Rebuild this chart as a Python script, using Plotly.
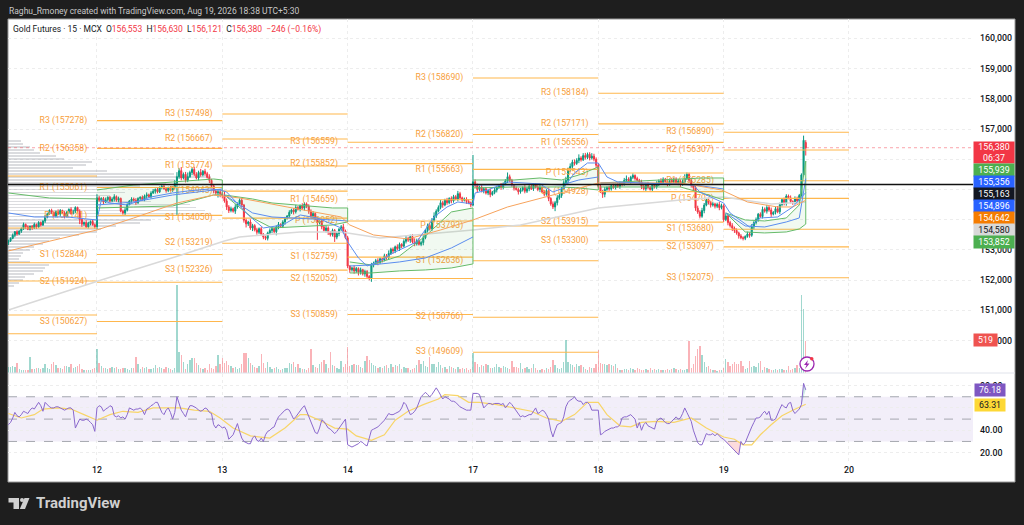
"""Gold Futures 15m TradingView chart snapshot rebuilt with Plotly"""
import plotly.graph_objects as go

# bar index of each session start on the time axis
DAY_TICKS = [41, 99, 157, 215, 273, 331, 389]
DAY_LABELS = ["12", "13", "14", "17", "18", "19", "20"]
X_RANGE = [-0.18, 446.4]

CLOSE = [
    153300, 153380, 153480, 153600, 153520, 153620, 153700, 153840, 153760, 153680,
    153780, 153720, 153840, 153760, 153900, 153820, 153950, 154080, 154180, 154300,
    154240, 154120, 154260, 154180, 154300, 154220, 154100, 154240, 154340, 154200,
    154280, 154400, 154280, 154000, 153850, 153900, 153760, 153880, 153940, 153830, 153760,
    # 12th
    154720, 154640, 154700, 154580, 154660, 154740, 154620, 154680, 154760, 154640, 154700,
    154280, 154220, 154320, 154500, 154620, 154680, 154640, 154560, 154700, 154740, 154660, 154780,
    154820, 154760, 154880, 154940, 155000, 154920, 155060, 155100, 155020, 154960, 155040, 154980, 155060,
    155200, 155420, 155620, 155380, 155500, 155300, 155420, 155560, 155660, 155500, 155380,
    155560, 155480, 155600, 155520, 155400, 155300, 155120, 154950, 154880, 154920, 154860,
    # 13th
    154800, 154620, 154420, 154300, 154360, 154280, 154420, 154520, 154640, 154480,
    153980, 153860, 153920, 153720, 153800, 153660, 153580, 153700, 153520, 153420,
    153380, 153560, 153640, 153700, 153600, 153760, 153840, 153780, 153920, 154040,
    154120, 154240, 154320, 154260, 154400, 154340, 154460, 154380, 154520, 154440,
    154280, 154120, 154200, 154020, 153900, 153960, 153760, 153640, 153720, 153580,
    153500, 153640, 153420, 153540, 153680, 153760, 153620, 153400,
    # 14th
    152460, 152340, 152400, 152300, 152380, 152260, 152340, 152200, 152280, 152120,
    152060, 152500, 152560, 152640, 152580, 152700, 152660, 152800, 152740, 152880,
    153020, 152960, 153100, 153040, 153180, 153120, 153280, 153380, 153320, 153440,
    153260, 153200, 153300, 153180, 153240, 153400, 153640, 153800, 153700, 153960,
    154120, 154280, 154400, 154560, 154480, 154640, 154560, 154700, 154620, 154760,
    154680, 154860, 154720, 154640, 154680, 154600, 154560, 154480,
    # 17th
    155250, 155130, 155000, 155080, 154950, 155020, 154880, 154960, 154830, 154900,
    154980, 155060, 155120, 155060, 155180, 155280, 155420, 155300, 155140, 155040,
    155000, 154920, 154980, 155060, 154940, 155020, 155100, 155020, 155160, 155080,
    155000, 155060, 154920, 154840, 154960, 154700, 154520, 154420, 154560, 154720,
    154800, 155020, 155220, 155300, 155660, 155760, 155900, 155860, 155960, 156040,
    155980, 156120, 156060, 156160, 156040, 156100, 156000, 155800,
    # 18th
    155100, 154920, 154840, 155000, 155060, 155020, 155120, 155060, 155140, 155100,
    155200, 155160, 155300, 155340, 155260, 155400, 155460, 155360, 155300, 155240,
    155100, 155020, 155180, 155060, 155000, 155140, 155080, 155200, 155280, 155220,
    155340, 155260, 155180, 155300, 155240, 155340, 155200, 155280, 155160, 155240,
    155360, 155500, 155300, 155140, 155060, 154380, 154250, 154110, 154300, 154480,
    154660, 154560, 154480, 154520, 154440, 154500, 154400, 154460,
    # 19th
    154000, 154120, 153900, 153800, 153720, 153640, 153560, 153460, 153400, 153380,
    153440, 153520, 153480, 153760, 153900, 154000, 154180, 154100, 154340, 154280,
    154400, 154320, 154180, 154240, 154360, 154260, 154500, 154660, 154540, 154780,
    154720, 154600, 154560, 154700, 154620, 154800, 155480, 156626, 156380,
]

UPPER_WICK = [
    40, 30, 60, 20, 50, 30, 40, 60, 30, 50,
    20, 40, 60, 30, 50, 40, 30, 70, 50, 40,
    60, 30, 40, 80, 50, 30, 60, 40, 30, 70,
    50, 40, 30, 60, 20, 40, 80, 50, 30, 60,
    40, 120, 60, 40, 50, 70, 30, 40, 60, 80,
    40, 60, 30, 50, 80, 40, 30, 60, 50, 70,
    40, 30, 60, 50, 80, 40, 60, 70, 30, 50,
    40, 80, 60, 30, 50, 70, 40, 120, 150, 90,
    120, 60, 80, 140, 60, 50, 90, 70, 60, 120,
    40, 80, 60, 100, 50, 60, 40, 70, 90, 60,
    150, 80, 60, 70, 40, 90, 50, 60, 80, 40,
    60, 40, 90, 60, 50, 70, 40, 60, 30, 50,
    40, 70, 60, 30, 50, 80, 40, 60, 50, 30,
    70, 40, 60, 90, 50, 40, 80, 60, 50, 70,
    60, 80, 40, 60, 30, 70, 50, 80, 60, 40,
    60, 50, 70, 40, 60, 100, 50, 60, 30, 40,
    80, 50, 40, 70, 30, 60, 50, 40, 70, 50,
    60, 80, 50, 40, 70, 60, 100, 50, 60, 40,
    80, 60, 40, 70, 90, 50, 60, 80, 120, 70,
    90, 60, 80, 50, 70, 60, 90, 120, 60, 70,
    90, 60, 50, 80, 40, 70, 60, 50, 90, 60,
    40, 50, 60, 70, 40, 890, 80, 60, 40, 70,
    50, 60, 40, 80, 50, 70, 60, 40, 90, 50,
    60, 140, 70, 50, 40, 60, 50, 70, 40, 80,
    60, 40, 70, 50, 40, 60, 90, 40, 60, 50,
    70, 40, 80, 60, 90, 100, 60, 80, 120, 60,
    100, 80, 90, 70, 120, 60, 80, 90, 60, 70,
    100, 80, 60, 70, 50, 60, 80, 40, 60, 50,
    70, 50, 90, 60, 40, 80, 120, 60, 50, 70,
    40, 60, 50, 80, 60, 40, 70, 50, 60, 40,
    70, 50, 90, 60, 40, 70, 60, 80, 50, 60,
    60, 50, 90, 140, 60, 50, 90, 40, 120, 80,
    60, 90, 70, 40, 60, 50, 70, 40, 60, 90,
    70, 50, 90, 40, 60, 80, 50, 70, 40, 60,
    50, 40, 80, 60, 90, 50, 70, 40, 60, 90,
    60, 90, 50, 80, 40, 70, 90, 60, 50, 70,
    60, 50, 80, 40, 70, 60, 50, 50, 154, 77,
]

LOWER_WICK = [
    80, 40, 30, 60, 50, 30, 60, 40, 70, 30,
    40, 60, 30, 70, 40, 50, 30, 60, 40, 30,
    60, 40, 50, 30, 70, 40, 60, 30, 50, 40,
    30, 60, 40, 150, 90, 60, 40, 50, 70, 30,
    60, 80, 50, 40, 70, 30, 60, 50, 40, 80,
    50, 70, 40, 60, 90, 50, 30, 60, 40, 70,
    40, 60, 30, 50, 70, 40, 60, 30, 80, 50,
    40, 60, 30, 70, 50, 40, 60, 60, 1050, 70,
    80, 50, 70, 60, 40, 90, 60, 50, 80, 60,
    50, 70, 40, 90, 60, 80, 70, 150, 120, 100,
    60, 100, 80, 60, 50, 90, 60, 40, 70, 80,
    120, 70, 60, 100, 50, 80, 60, 50, 70, 60,
    70, 40, 90, 60, 120, 80, 50, 60, 90, 40,
    60, 50, 90, 60, 40, 70, 50, 80, 60, 90,
    60, 90, 50, 570, 60, 80, 40, 70, 90, 60,
    60, 160, 70, 90, 60, 80, 50, 70, 100, 60,
    90, 60, 110, 80, 50, 90, 60, 70, 120, 80,
    60, 90, 50, 80, 40, 70, 60, 50, 90, 70,
    50, 80, 60, 40, 70, 60, 90, 50, 80, 60,
    40, 60, 90, 50, 70, 60, 80, 50, 70, 40,
    60, 90, 40, 70, 50, 80, 60, 40, 70, 50,
    60, 40, 80, 50, 70, 40, 70, 90, 60, 50,
    80, 50, 70, 90, 40, 60, 80, 50, 70, 60,
    40, 70, 60, 50, 80, 40, 90, 60, 50, 70,
    60, 80, 40, 70, 50, 60, 90, 40, 70, 50,
    90, 60, 70, 140, 90, 60, 80, 50, 70, 100,
    90, 60, 70, 50, 90, 60, 40, 70, 60, 80,
    50, 70, 90, 60, 40, 120, 100, 50, 70, 60,
    40, 60, 50, 80, 60, 40, 70, 50, 90, 60,
    70, 40, 60, 90, 50, 70, 60, 40, 80, 50,
    60, 90, 50, 70, 40, 80, 60, 50, 70, 40,
    60, 90, 40, 70, 50, 60, 80, 120, 90, 60,
    70, 50, 90, 40, 60, 80, 50, 70, 60, 90,
    60, 80, 50, 90, 60, 100, 80, 60, 90, 50,
    70, 60, 40, 80, 50, 90, 60, 70, 40, 60,
    50, 80, 60, 90, 40, 70, 50, 80, 60, 70,
    80, 50, 60, 70, 40, 90, 60, 40, 60, 259,
]

VOLUME = [
    96, 96, 112, 96, 160, 64, 48, 48, 48, 48,
    256, 64, 64, 80, 80, 64, 80, 144, 80, 64,
    144, 176, 128, 80, 80, 64, 112, 112, 96, 144,
    80, 96, 112, 144, 64, 48, 48, 48, 48, 64, 80,
    # 12th
    384, 160, 112, 80, 80, 64, 80, 96, 80, 96,
    64, 64, 80, 80, 64, 48, 80, 80, 256, 144,
    64, 96, 80, 96, 64, 64, 80, 128, 80, 96,
    80, 64, 96, 80, 64, 48, 80, 1408, 336, 288,
    176, 64, 144, 208, 240, 240, 160, 128, 80, 64,
    80, 48, 144, 80, 64, 112, 288, 144,
    # 13th
    240, 160, 192, 128, 112, 80, 96, 64, 80, 144,
    320, 320, 240, 160, 128, 96, 80, 112, 304, 160,
    80, 176, 96, 64, 80, 96, 64, 48, 64, 80,
    80, 160, 144, 176, 96, 144, 80, 64, 64, 48,
    80, 384, 128, 96, 80, 144, 176, 208, 144, 80,
    336, 128, 112, 80, 64, 192, 96, 144,
    # 14th
    416, 112, 128, 144, 128, 128, 96, 80, 192, 272,
    208, 160, 128, 112, 80, 96, 80, 112, 128, 80,
    144, 96, 128, 112, 144, 64, 96, 80, 80, 48,
    64, 80, 128, 208, 144, 192, 112, 96, 256, 144,
    144, 96, 176, 128, 80, 96, 64, 112, 96, 80,
    64, 96, 64, 80, 64, 80, 48, 64,
    # 17th
    320, 176, 144, 96, 128, 112, 144, 128, 80, 80,
    96, 144, 96, 80, 112, 96, 80, 64, 192, 96,
    96, 80, 160, 64, 80, 96, 64, 80, 144, 80,
    48, 48, 64, 48, 80, 64, 96, 208, 128, 80,
    64, 80, 176, 528, 176, 144, 128, 96, 144, 112,
    128, 96, 64, 48, 96, 80, 80, 144,
    # 18th
    368, 160, 144, 144, 128, 144, 128, 112, 144, 80,
    48, 48, 64, 64, 48, 80, 64, 48, 80, 64,
    48, 48, 64, 48, 80, 48, 64, 48, 64, 48,
    48, 48, 64, 48, 64, 80, 64, 48, 64, 48,
    48, 64, 512, 80, 144, 272, 384, 432, 288, 176,
    96, 112, 64, 48, 48, 32, 48, 48,
    # 19th
    80, 224, 176, 112, 144, 176, 144, 144, 192, 112,
    64, 80, 192, 96, 112, 96, 160, 192, 48, 96,
    80, 64, 48, 48, 64, 48, 64, 64, 48, 48,
    112, 48, 64, 80, 128, 80, 1248, 1024, 519,
]

RSI = [
    45, 47, 51, 56, 53, 52, 54, 57, 56, 55,
    58, 60, 59, 62, 65, 62, 57, 65, 63, 61,
    60, 60, 61, 61, 60, 59, 58, 59, 60, 60,
    58, 42, 46, 50, 49, 49, 50, 49, 47, 45, 39,
    # 12th
    60, 62, 61, 57, 59, 60, 62, 61, 53, 52,
    53, 51, 52, 50, 54, 60, 59, 58, 59, 59,
    60, 58, 54, 59, 60, 62, 63, 65, 65, 60,
    56, 54, 58, 60, 56, 50, 56, 70, 64, 58,
    55, 52, 58, 62, 62, 61, 60, 58, 57, 58,
    60, 59, 56, 55, 45, 42, 45, 44,
    # 13th
    42, 43, 40, 32, 34, 36, 41, 46, 39, 33,
    30, 29, 28, 28, 33, 35, 31, 30, 33, 30,
    36, 39, 40, 42, 43, 48, 52, 54, 56, 58,
    59, 58, 54, 50, 52, 55, 57, 60, 62, 57,
    52, 47, 42, 38, 37, 42, 49, 48, 45, 42,
    41, 39, 37, 39, 42, 44, 48, 50,
    # 14th
    27, 26, 25, 26, 27, 28, 30, 29, 27, 26,
    33, 40, 41, 42, 43, 45, 47, 49, 52, 55,
    54, 54, 55, 56, 57, 60, 65, 63, 58, 54,
    55, 57, 60, 65, 70, 72, 74, 72, 70, 72,
    75, 78, 75, 72, 68, 70, 69, 68, 66, 66,
    65, 63, 61, 60, 59, 58, 58, 58,
    # 17th
    73, 73, 73, 72, 65, 60, 62, 64, 64, 63,
    64, 64, 64, 63, 64, 60, 63, 65, 63, 60,
    57, 54, 52, 53, 52, 53, 54, 54, 57, 60,
    55, 56, 58, 57, 54, 50, 40, 34, 40, 45,
    46, 47, 52, 61, 65, 67, 68, 70, 67, 66,
    66, 63, 65, 65, 63, 58, 58, 58,
    # 18th
    58, 36, 37, 39, 40, 41, 42, 42, 43, 43,
    45, 51, 52, 52, 53, 54, 52, 50, 42, 47,
    40, 45, 47, 44, 43, 42, 41, 48, 50, 51,
    49, 47, 46, 46, 48, 50, 52, 50, 51, 55,
    60, 56, 52, 48, 40, 34, 29, 27, 27, 32,
    37, 36, 36, 37, 35, 37, 35, 33,
    # 19th
    32, 30, 28, 26, 24, 22, 20, 18, 30, 27,
    29, 34, 38, 43, 47, 51, 51, 52, 55, 57,
    54, 57, 49, 49, 50, 55, 59, 63, 61, 60,
    64, 65, 58, 55, 57, 59, 63, 82, 76.18,
]

RSI_MA_X = [0, 6, 12, 16, 23, 29, 35, 41, 47, 53, 60, 67, 73, 79, 86, 93, 98, 104, 112, 121,
            128, 135, 138, 144, 151, 157, 161, 168, 174, 179, 185, 192, 199, 202, 208, 213,
            218, 226, 234, 242, 249, 256, 262, 268, 273, 277, 283, 288, 293, 300, 308, 316,
            323, 331, 336, 340, 344, 348, 353, 358, 363, 369]
RSI_MA = [55, 51, 54, 59, 60, 59, 54, 49, 54, 57, 56, 60, 60, 60, 58, 57, 51, 42, 35, 33,
          42, 54, 54, 49, 42, 41, 35, 31, 36, 49, 57, 63, 68, 72, 71, 65,
          65, 63, 60, 57, 51, 48, 54, 65, 65, 54, 44, 43, 47, 48, 47, 51,
          42, 34, 32, 27, 27, 36, 45, 53, 58, 63.31]

# pivot levels per session, R3 down to S3
PIVOT_NAMES = ["R3", "R2", "R1", "P", "S1", "S2", "S3"]
PIVOT_12 = [157278, 156358, 155061, 154141, 152844, 151924, 150627]
PIVOT_13 = [157498, 156667, 155774, 154943, 154050, 153219, 152326]
PIVOT_14 = [156559, 155852, 154659, 153952, 152759, 152052, 150859]
PIVOT_17 = [158690, 156820, 155663, 153793, 152636, 150766, 149609]
PIVOT_18 = [158184, 157171, 156556, 155543, 154928, 153915, 153300]
PIVOT_19 = [156890, 156307, 155285, 154702, 153680, 153097, 152075]
PIVOT_LEFT = [155444, 153722, 152573, 151967, 150841, 150222]

# volume profile rows down the left edge
VP_PRICE = list(range(156600, 151700, -100))
VP_WIDTH = [6, 7, 10, 12, 15, 22, 26, 39, 36, 30, 46, 77, 94, 77, 73, 61, 43, 54, 47, 43,
            66, 84, 87, 91, 94, 73, 66, 61, 50, 43, 41, 33, 24, 19, 16, 12, 10, 7, 6, 5,
            10, 19, 17, 16, 12, 8, 7, 5, 3]

EMA_SLOW_X = [0, 41, 58, 78, 95, 107, 129, 150, 154, 158, 169, 185, 200, 215, 231, 252, 273,
              293, 311, 330, 342, 356, 363, 369]
EMA_SLOW = [152962, 153657, 154054, 154550, 154815, 154716, 154418, 154153, 154087, 153822,
            153491, 153359, 153657, 153988, 154418, 154815, 155213, 155213, 155213, 154981,
            154584, 154418, 154418, 154642]

SMA_X = [0, 43, 80, 100, 107, 135, 154, 172, 215, 237, 273, 311, 331, 353, 369]
SMA = [151009, 152002, 152829, 153293, 153425, 153591, 153591, 153392, 153657, 153822, 154385,
       154650, 154749, 154518, 154580]

EMA_FAST_X = [0, 12, 27, 41, 43, 47, 55, 66, 76, 83, 93, 98, 101, 111, 118, 127, 135, 143, 154,
              157, 162, 166, 172, 178, 189, 197, 203, 208, 215, 216, 222, 231, 246, 252, 257,
              262, 268, 273, 277, 282, 293, 311, 317, 320, 331, 334, 343, 348, 356, 363, 369]
EMA_FAST = [154220, 154087, 154087, 153988, 154650, 154551, 154484, 154749, 154882, 154948,
            155014, 154981, 154915, 154153, 153723, 153822, 154153, 154054, 153723,
            153260, 152730, 152465, 152631, 152896, 153260, 154087, 154418, 154584, 154518,
            154882, 154981, 155246, 155180, 154915, 155047, 155544, 155875, 155875, 155411,
            155246, 155213, 155146, 155146, 154915, 154551, 154220, 153756, 154054, 154087,
            154418, 154896]

# anchored VWAP and its bands for each session
LEFT_BAND_X = [0, 19, 41]
LEFT_UPPER = [154882, 154716, 154683]
BAND_X_12 = [41, 58, 76, 95, 99]
UPPER_12 = [154981, 155146, 155246, 155345, 155312]
LOWER_12 = [154385, 154418, 154451, 154815, 154815]
VWAP_12 = [154484, 154584, 154815, 154981, 155014]
BAND_X_13 = [100, 113, 122, 134, 150, 157]
UPPER_13 = [154815, 154683, 154551, 154484, 154385, 154385]
LOWER_13 = [154815, 154054, 153723, 153756, 153822, 153922]
VWAP_13 = [154815, 154220, 154087, 154054, 153988, 153955]
BAND_X_14 = [158, 168, 181, 193, 205, 215]
UPPER_14 = [152598, 152498, 152796, 153458, 154253, 154385]
LOWER_14 = [152234, 152234, 152300, 152333, 152399, 152532]
VWAP_14 = [152465, 152498, 152598, 152730, 153061, 153425]
BAND_X_17 = [215, 234, 246, 256, 264, 273]
UPPER_17 = [155312, 155312, 155378, 155312, 155477, 155742]
LOWER_17 = [155047, 155080, 155080, 155080, 155047, 154981]
VWAP_17 = [155146, 155146, 155180, 155146, 155312, 155411]
BAND_X_18 = [274, 290, 311, 321, 331]
UPPER_18 = [155213, 155279, 155345, 155378, 155378]
LOWER_18 = [155080, 155080, 155080, 154882, 154650]
VWAP_18 = [155213, 155213, 155180, 155113, 155014]
BAND_X_19 = [332, 341, 350, 360, 366, 369]
UPPER_19 = [154220, 153988, 153955, 154054, 154484, 155939]
LOWER_19 = [154220, 153591, 153558, 153591, 153690, 153852]
VWAP_19 = [154220, 153789, 153756, 153922, 154054, 155356]

LAST_PRICE = 156380
BLACK_LEVEL = 155163

PRICE_TICKS = [160000, 159000, 158000, 157000, 156000, 155000, 154000, 153000, 152000, 151000, 150000]
# 156,000 to 154,000 lie fully behind the value tags
PRICE_LABELS = ["160,000", "159,000", "158,000", "157,000", "", "", "", "153,000", "152,000", "151,000", "150,000"]
RSI_TICKS = [20, 40, 60, 80]

TAG_LABELS = ["155,939", "155,356", "155,163", "154,896", "154,642", "154,580", "153,852"]
TAG_COLORS = ["#4caf50", "#2962ff", "#131722", "#2962ff", "#f57c00", "#d9d9d9", "#4caf50"]
TAG_TEXT = ["#ffffff", "#ffffff", "#ffffff", "#ffffff", "#ffffff", "#131722", "#ffffff"]
TAG_Y = [170, 182, 194, 206, 218, 230, 242]

W, H = 1024, 525
PLOT_L, PLOT_R, PLOT_T, PLOT_B = 8, 973, 19, 463
FONT = "Roboto, Arial, sans-serif"
UP = "#089981"
DOWN = "#f23645"
ORANGE = "#ffb74d"
GREEN = "#66bb6a"
BLUE = "#5b8def"


# paper coordinates run over the plot area, these take page pixels
def px(x):
    return (x - PLOT_L) / (PLOT_R - PLOT_L)


def py(y):
    return (PLOT_B - y) / (PLOT_B - PLOT_T)


def tag(x, y, text, bg, color, width=40, height=12):
    return dict(xref="paper", yref="paper", x=px(x), y=py(y), text=text, showarrow=False,
                xanchor="left", yanchor="middle", bgcolor=bg, width=width, height=height,
                align="center", valign="middle", borderpad=0,
                font=dict(family=FONT, size=8.8, color=color))


def paper_rect(x0, y0, x1, y1, **kw):
    return dict(type="rect", xref="paper", yref="paper", x0=px(x0), x1=px(x1), y0=py(y0), y1=py(y1), **kw)


def paper_path(points, color):
    d = "M " + " L ".join(f"{px(a):.5f},{py(b):.5f}" for a, b in points) + " Z"
    return dict(type="path", xref="paper", yref="paper", path=d, fillcolor=color, line=dict(width=0))


OPEN = [CLOSE[0] - 60] + CLOSE[:-1]
OPEN[-1] = 156553
HIGH = [max(o, c) + w for o, c, w in zip(OPEN, CLOSE, UPPER_WICK)]
LOW = [min(o, c) - w for o, c, w in zip(OPEN, CLOSE, LOWER_WICK)]
BARS = list(range(len(CLOSE)))

fig = go.Figure()

# volume sits on the base y axis so that everything on the price axis is drawn over it
vol_colors = ["rgba(8,153,129,0.38)" if c >= o else "rgba(242,54,69,0.38)" for o, c in zip(OPEN, CLOSE)]
fig.add_trace(go.Bar(x=BARS, y=VOLUME, width=0.62, marker=dict(color=vol_colors, line=dict(width=0)),
                     yaxis="y", xaxis="x", hoverinfo="skip"))

# pivot segments and their labels
pivot_sets = [PIVOT_12, PIVOT_13, PIVOT_14, PIVOT_17, PIVOT_18, PIVOT_19]
seg_x, seg_y, lab_x, lab_y, lab_t = [], [], [], [], []
for level in PIVOT_LEFT:
    seg_x += [X_RANGE[0], DAY_TICKS[0], None]
    seg_y += [level, level, None]
for n, levels in enumerate(pivot_sets):
    for name, level in zip(PIVOT_NAMES, levels):
        seg_x += [DAY_TICKS[n], DAY_TICKS[n + 1], None]
        seg_y += [level, level, None]
        lab_x.append(DAY_TICKS[n] - 4.5)
        lab_y.append(level)
        lab_t.append(f"{name} ({level})")
fig.add_trace(go.Scatter(x=seg_x, y=seg_y, mode="lines", line=dict(color=ORANGE, width=1.1),
                         yaxis="y2", hoverinfo="skip"))
fig.add_trace(go.Scatter(x=lab_x, y=lab_y, text=lab_t, mode="text", textposition="middle left",
                         textfont=dict(family=FONT, size=8.7, color="#f7a03c"), yaxis="y2", hoverinfo="skip"))

fig.add_trace(go.Bar(y=VP_PRICE, x=VP_WIDTH, base=X_RANGE[0], orientation="h", width=60,
                     marker=dict(color="rgba(150,153,162,0.34)", line=dict(width=0)),
                     yaxis="y2", xaxis="x", hoverinfo="skip"))

fig.add_trace(go.Scatter(x=SMA_X, y=SMA, mode="lines", line=dict(color="#d9d9d9", width=1.5),
                         yaxis="y2", hoverinfo="skip"))

band_sets = [(BAND_X_12, UPPER_12, LOWER_12, VWAP_12), (BAND_X_13, UPPER_13, LOWER_13, VWAP_13),
             (BAND_X_14, UPPER_14, LOWER_14, VWAP_14), (BAND_X_17, UPPER_17, LOWER_17, VWAP_17),
             (BAND_X_18, UPPER_18, LOWER_18, VWAP_18), (BAND_X_19, UPPER_19, LOWER_19, VWAP_19)]
for bx, up, lo, vw in band_sets:
    fig.add_trace(go.Scatter(x=bx + bx[::-1], y=up + lo[::-1], mode="lines", fill="toself",
                             fillcolor="rgba(76,175,80,0.08)", line=dict(color=GREEN, width=1),
                             yaxis="y2", hoverinfo="skip"))
    fig.add_trace(go.Scatter(x=bx, y=vw, mode="lines", line=dict(color=BLUE, width=1),
                             yaxis="y2", hoverinfo="skip"))
fig.add_trace(go.Scatter(x=LEFT_BAND_X, y=LEFT_UPPER, mode="lines", line=dict(color=GREEN, width=1),
                         yaxis="y2", hoverinfo="skip"))

fig.add_trace(go.Candlestick(x=BARS, open=OPEN, high=HIGH, low=LOW, close=CLOSE, yaxis="y2", xaxis="x",
                             whiskerwidth=0,
                             increasing=dict(line=dict(color=UP, width=1), fillcolor=UP),
                             decreasing=dict(line=dict(color=DOWN, width=1), fillcolor=DOWN),
                             hoverinfo="skip"))

fig.add_trace(go.Scatter(x=EMA_SLOW_X, y=EMA_SLOW, mode="lines", line=dict(color="#f7a35c", width=1),
                         yaxis="y2", hoverinfo="skip"))
fig.add_trace(go.Scatter(x=EMA_FAST_X, y=EMA_FAST, mode="lines", line=dict(color=BLUE, width=1),
                         yaxis="y2", hoverinfo="skip"))

fig.add_trace(go.Scatter(x=X_RANGE, y=[LAST_PRICE, LAST_PRICE], mode="lines",
                         line=dict(color="rgba(242,54,69,0.45)", width=1, dash="dot"), yaxis="y2", hoverinfo="skip"))
fig.add_trace(go.Scatter(x=X_RANGE, y=[BLACK_LEVEL, BLACK_LEVEL], mode="lines",
                         line=dict(color="#111111", width=1.4), yaxis="y2", hoverinfo="skip"))

# RSI pane, with the oversold dip and overbought top shaded
fig.add_trace(go.Scatter(x=BARS[332:340], y=RSI[332:340], mode="lines", fill="toself",
                         fillcolor="rgba(242,54,69,0.18)", line=dict(width=0),
                         xaxis="x2", yaxis="y3", hoverinfo="skip"))
fig.add_trace(go.Scatter(x=BARS[367:370], y=RSI[367:370], mode="lines", fill="toself",
                         fillcolor="rgba(8,153,129,0.2)", line=dict(width=0),
                         xaxis="x2", yaxis="y3", hoverinfo="skip"))
fig.add_trace(go.Scatter(x=RSI_MA_X, y=RSI_MA, mode="lines", line=dict(color="#f8d568", width=1.2),
                         xaxis="x2", yaxis="y3", hoverinfo="skip"))
fig.add_trace(go.Scatter(x=BARS, y=RSI, mode="lines", line=dict(color="#8a68cc", width=1),
                         xaxis="x2", yaxis="y3", hoverinfo="skip"))

shapes = [
    paper_rect(8, 19, 1015, 482, fillcolor="#ffffff", line=dict(color="#9a9a9a", width=1), layer="below"),
    dict(type="rect", xref="x2", yref="y3", x0=X_RANGE[0], x1=X_RANGE[1], y0=30, y1=70,
         fillcolor="rgba(126,87,194,0.1)", line=dict(width=0), layer="below"),
    dict(type="line", xref="paper", yref="paper", x0=px(8), x1=px(1015), y0=py(373), y1=py(373),
         line=dict(color="#e0e3eb", width=1)),
]
for level in [70, 50, 30]:
    shapes.append(dict(type="line", xref="x2", yref="y3", x0=X_RANGE[0], x1=X_RANGE[1], y0=level, y1=level,
                       line=dict(color="#a5a7af", width=1, dash="dash"), layer="below"))

# alert badge on the last bar
shapes.append(dict(type="circle", xref="paper", yref="paper", x0=px(800), x1=px(814), y0=py(357), y1=py(371),
                   fillcolor="#ffffff", line=dict(color="#9c27b0", width=1.3)))
shapes.append(paper_path([(808, 360), (804, 365), (806.5, 365), (805, 369), (809.5, 363.5), (807, 363.5)], "#9c27b0"))
shapes.append(dict(type="circle", xref="paper", yref="paper", x0=px(810), x1=px(813.5), y0=py(357), y1=py(360.5),
                   fillcolor="#f23645", line=dict(width=0)))

# TradingView mark
shapes.append(paper_path([(8.5, 498), (19, 498), (19, 509), (13.5, 509), (13.5, 502.5), (8.5, 502.5)], "#d0d0d0"))
shapes.append(paper_path([(24.5, 498), (29.5, 498), (25, 509), (19.8, 509)], "#d0d0d0"))
shapes.append(dict(type="circle", xref="paper", yref="paper", x0=px(20), x1=px(24), y0=py(498), y1=py(502),
                   fillcolor="#d0d0d0", line=dict(width=0)))

red = "#f23645"
header = (f'Gold Futures · 15 · MCX  O<span style="color:{red}">156,553</span>  '
          f'H<span style="color:{red}">156,630</span>  L<span style="color:{red}">156,121</span>  '
          f'C<span style="color:{red}">156,380</span>  <span style="color:{red}">−246 (−0.16%)</span>')

annotations = [
    dict(xref="paper", yref="paper", x=px(7), y=py(11), text="Raghu_Rmoney created with TradingView.com, Aug 19, 2026 18:38 UTC+5:30",
         showarrow=False, xanchor="left", yanchor="middle", font=dict(family=FONT, size=8.5, color="#c8c8c8")),
    dict(xref="paper", yref="paper", x=px(11), y=py(30), text=header, showarrow=False, xanchor="left",
         yanchor="middle", font=dict(family=FONT, size=8.5, color="#131722")),
    dict(xref="paper", yref="paper", x=px(34), y=py(503), text="<b>TradingView</b>", showarrow=False,
         xanchor="left", yanchor="middle", font=dict(family=FONT, size=15, color="#d0d0d0")),
    tag(973, 152, "156,380<br>06:37", DOWN, "#ffffff", height=21),
    tag(973, 340, "519", "#ef5350", "#ffffff", width=23),
    tag(974, 390, "76.18", "#7e57c2", "#ffffff", width=30),
    tag(974, 404.5, "63.31", "#fdd835", "#131722", width=30),
]
for label, bg, color, y in zip(TAG_LABELS, TAG_COLORS, TAG_TEXT, TAG_Y):
    annotations.append(tag(973, y, label, bg, color))

grid = dict(gridcolor="#ededed", griddash="dot", gridwidth=1, zeroline=False, showline=False)
tick_font = dict(family=FONT, size=8.8, color="#131722", weight=500)

fig.update_layout(
    width=W, height=H, autosize=False,
    margin=dict(l=PLOT_L, r=W - PLOT_R, t=PLOT_T, b=H - PLOT_B, pad=0),
    paper_bgcolor="#1e1e1e", plot_bgcolor="#ffffff",
    showlegend=False, barmode="overlay", bargap=0,
    shapes=shapes, annotations=annotations,
    xaxis=dict(domain=[0, 1], range=X_RANGE, anchor="y", tickvals=DAY_TICKS, showticklabels=False,
               ticks="", rangeslider=dict(visible=False), fixedrange=True, **grid),
    xaxis2=dict(domain=[0, 1], range=X_RANGE, anchor="y3", tickvals=DAY_TICKS, ticktext=DAY_LABELS, matches="x",
                ticks="", ticklen=0, tickfont=tick_font, fixedrange=True, **grid),
    yaxis=dict(domain=[0.2027, 1], range=[0, 5664], visible=False, fixedrange=True),
    yaxis2=dict(domain=[0.2027, 1], range=[148921, 160642], overlaying="y", side="right", anchor="x",
                tickvals=PRICE_TICKS, ticktext=PRICE_LABELS, tickfont=tick_font, ticks="", ticklabelstandoff=6,
                fixedrange=True, **grid),
    yaxis3=dict(domain=[0, 0.2], range=[10.7, 90.2], anchor="x2", side="right", tickvals=RSI_TICKS,
                tickformat=".2f", tickfont=tick_font, ticks="", ticklabelstandoff=6, fixedrange=True, **grid),
)

fig.write_html("out.html", config=dict(displayModeBar=False, staticPlot=True),
               post_script="document.body.style.margin='0';document.body.style.background='#1e1e1e';"
                           "document.body.style.overflow='hidden';")
